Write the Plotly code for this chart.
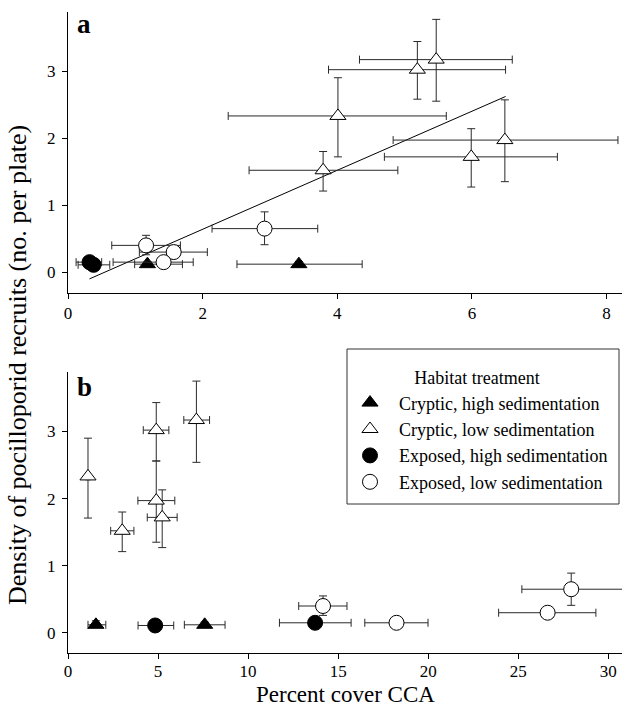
import plotly.graph_objects as go

# ---------------- data ----------------
# Panel a
ch_a_x = [1.18, 3.43]
ch_a_y = [0.12, 0.12]
ch_a_xlo = [0.99, 2.51]
ch_a_xhi = [1.70, 4.37]
ch_a_ylo = [0.08, 0.08]
ch_a_yhi = [0.16, 0.16]

cl_a_x = [5.47, 5.19, 4.01, 3.79, 5.99, 6.49]
cl_a_y = [3.17, 3.02, 2.33, 1.52, 1.72, 1.97]
cl_a_xlo = [4.33, 3.87, 2.38, 2.69, 4.70, 4.83]
cl_a_xhi = [6.60, 6.50, 5.62, 4.90, 7.27, 8.17]
cl_a_ylo = [2.55, 2.58, 1.72, 1.21, 1.27, 1.35]
cl_a_yhi = [3.77, 3.44, 2.90, 1.80, 2.14, 2.57]

eh_a_x = [0.32, 0.38]
eh_a_y = [0.15, 0.11]
eh_a_xlo = [0.12, 0.15]
eh_a_xhi = [0.50, 0.62]
eh_a_ylo = [0.11, 0.07]
eh_a_yhi = [0.19, 0.15]

el_a_x = [2.92, 1.16, 1.57, 1.42]
el_a_y = [0.65, 0.40, 0.30, 0.15]
el_a_xlo = [2.14, 0.65, 1.06, 0.67]
el_a_xhi = [3.71, 1.67, 2.07, 1.86]
el_a_ylo = [0.41, 0.26, 0.25, 0.11]
el_a_yhi = [0.90, 0.55, 0.35, 0.19]

fit_x = [0.32, 6.50]
fit_intercept = -0.24
fit_slope = 0.44

# Panel b
ch_b_x = [1.55, 7.59]
ch_b_y = [0.12, 0.12]
ch_b_xlo = [1.11, 6.46]
ch_b_xhi = [2.10, 8.72]
ch_b_ylo = [0.08, 0.08]
ch_b_yhi = [0.18, 0.16]

cl_b_x = [7.13, 4.90, 1.11, 3.01, 5.23, 4.90]
cl_b_y = [3.17, 3.02, 2.33, 1.52, 1.72, 1.97]
cl_b_xlo = [6.43, 4.18, 1.01, 2.37, 4.40, 3.88]
cl_b_xhi = [7.86, 5.60, 1.21, 3.66, 6.06, 5.93]
cl_b_ylo = [2.54, 2.56, 1.71, 1.21, 1.27, 1.35]
cl_b_yhi = [3.75, 3.43, 2.90, 1.80, 2.13, 2.56]

eh_b_x = [13.72, 4.84]
eh_b_y = [0.15, 0.11]
eh_b_xlo = [11.74, 3.89]
eh_b_xhi = [15.72, 5.87]
eh_b_ylo = [0.11, 0.07]
eh_b_yhi = [0.19, 0.15]

el_b_x = [27.94, 14.16, 26.63, 18.24]
el_b_y = [0.65, 0.40, 0.30, 0.15]
el_b_xlo = [25.20, 12.81, 23.91, 16.48]
el_b_xhi = [30.90, 15.49, 29.31, 19.99]
el_b_ylo = [0.41, 0.26, 0.25, 0.11]
el_b_yhi = [0.89, 0.55, 0.35, 0.19]

series_names = ["Cryptic, high sedimentation", "Cryptic, low sedimentation",
                "Exposed, high sedimentation", "Exposed, low sedimentation"]
x_a_ticks = [0, 2, 4, 6, 8]
x_b_ticks = [0, 5, 10, 15, 20, 25, 30]
y_ticks = [0, 1, 2, 3]

# ---------------- figure ----------------
FONT = "Liberation Serif"
ERR_COLOR = "#2a2a2a"

styles = [
    dict(symbol="triangle-up", color="black", size=14),
    dict(symbol="triangle-up", color="white", size=14),
    dict(symbol="circle", color="black", size=15),
    dict(symbol="circle", color="white", size=15),
]

fig = go.Figure()


def add_series(x, y, xlo, xhi, ylo, yhi, k, xa, ya, showlegend):
    st = styles[k]
    fig.add_trace(go.Scatter(
        x=x, y=y, mode="markers", name=series_names[k],
        xaxis=xa, yaxis=ya, showlegend=showlegend,
        marker=dict(symbol=st["symbol"], size=st["size"], color=st["color"],
                    line=dict(color="black", width=1)),
        error_x=dict(type="data", symmetric=False,
                     array=[h - v for h, v in zip(xhi, x)],
                     arrayminus=[v - l for l, v in zip(xlo, x)],
                     color=ERR_COLOR, thickness=1, width=4),
        error_y=dict(type="data", symmetric=False,
                     array=[h - v for h, v in zip(yhi, y)],
                     arrayminus=[v - l for l, v in zip(ylo, y)],
                     color=ERR_COLOR, thickness=1, width=4),
    ))


# regression line (panel a)
fig.add_trace(go.Scatter(
    x=fit_x, y=[fit_intercept + fit_slope * v for v in fit_x],
    mode="lines", line=dict(color="black", width=1),
    xaxis="x", yaxis="y", showlegend=False, hoverinfo="skip"))

add_series(ch_a_x, ch_a_y, ch_a_xlo, ch_a_xhi, ch_a_ylo, ch_a_yhi, 0, "x", "y", True)
add_series(cl_a_x, cl_a_y, cl_a_xlo, cl_a_xhi, cl_a_ylo, cl_a_yhi, 1, "x", "y", True)
add_series(eh_a_x, eh_a_y, eh_a_xlo, eh_a_xhi, eh_a_ylo, eh_a_yhi, 2, "x", "y", True)
add_series(el_a_x, el_a_y, el_a_xlo, el_a_xhi, el_a_ylo, el_a_yhi, 3, "x", "y", True)

add_series(ch_b_x, ch_b_y, ch_b_xlo, ch_b_xhi, ch_b_ylo, ch_b_yhi, 0, "x2", "y2", False)
add_series(cl_b_x, cl_b_y, cl_b_xlo, cl_b_xhi, cl_b_ylo, cl_b_yhi, 1, "x2", "y2", False)
add_series(eh_b_x, eh_b_y, eh_b_xlo, eh_b_xhi, eh_b_ylo, eh_b_yhi, 2, "x2", "y2", False)
add_series(el_b_x, el_b_y, el_b_xlo, el_b_xhi, el_b_ylo, el_b_yhi, 3, "x2", "y2", False)

axis_common = dict(showline=True, linecolor="black", linewidth=1, ticks="outside",
                   ticklen=5, tickwidth=1, tickcolor="black", showgrid=False,
                   zeroline=False, automargin=False,
                   tickfont=dict(family=FONT, size=17, color="black"))

# plot-area pixel geometry (622 x 708 page)
L, R, T, B = 68, 0, 12, 55
plot_w = 622 - L - R
plot_h = 708 - T - B


def px_x(p):
    return (p - L) / plot_w


def px_y(p):
    return (708 - B - p) / plot_h


fig.update_layout(
    width=622, height=708,
    margin=dict(l=L, r=R, t=T, b=B, pad=0, autoexpand=False),
    paper_bgcolor="white", plot_bgcolor="white",
    font=dict(family=FONT, color="black"),
    xaxis=dict(domain=[0, 1], anchor="y", range=[0, 8.23], tickvals=x_a_ticks,
               ticklabelstandoff=0, **axis_common),
    yaxis=dict(domain=[px_y(293), 1], anchor="x", range=[-0.31, 3.88], tickvals=y_ticks,
               ticklabelstandoff=3, **axis_common),
    xaxis2=dict(domain=[0, 1], anchor="y2", range=[0, 30.76], tickvals=x_b_ticks,
                ticklabelstandoff=-2, **axis_common),
    yaxis2=dict(domain=[0, px_y(371.7)], anchor="x2", range=[-0.30, 3.89], tickvals=y_ticks,
                ticklabelstandoff=3, **axis_common),
    legend=dict(x=px_x(341), y=px_y(361), xanchor="left", yanchor="top",
                borderwidth=0, bgcolor="rgba(0,0,0,0)",
                font=dict(family=FONT, size=18, color="black"),
                title=dict(text="Habitat treatment", side="top center",
                           font=dict(family=FONT, size=18)),
                itemwidth=48, tracegroupgap=0),
    shapes=[
        dict(type="rect", xref="paper", yref="paper",
             x0=px_x(347), x1=px_x(619), y0=px_y(504), y1=px_y(349),
             line=dict(color="#333", width=1), fillcolor="white", layer="below"),
    ],
    annotations=[
        dict(text="<b>a</b>", xref="x domain", yref="y domain", x=0.012, y=1.017,
             xanchor="left", yanchor="top", showarrow=False,
             font=dict(family=FONT, size=27)),
        dict(text="<b>b</b>", xref="x2 domain", yref="y2 domain", x=0.012, y=1.007,
             xanchor="left", yanchor="top", showarrow=False,
             font=dict(family=FONT, size=27)),
        dict(text="Density of pocilloporid recruits (no. per plate)", xref="paper",
             yref="paper", x=px_x(17), y=px_y(365), xanchor="center", yanchor="middle",
             textangle=-90, showarrow=False, font=dict(family=FONT, size=26)),
        dict(text="Percent cover CCA", xref="paper", yref="paper",
             x=px_x(345), y=px_y(694), xanchor="center", yanchor="middle",
             showarrow=False, font=dict(family=FONT, size=23)),
    ],
)

# the page body has a default 8px margin; remove it so the 622x708 figure fills the window
fig.write_html("out.html", config={"displayModeBar": False},
               post_script="document.body.style.margin='0';document.body.style.overflow='hidden';")
